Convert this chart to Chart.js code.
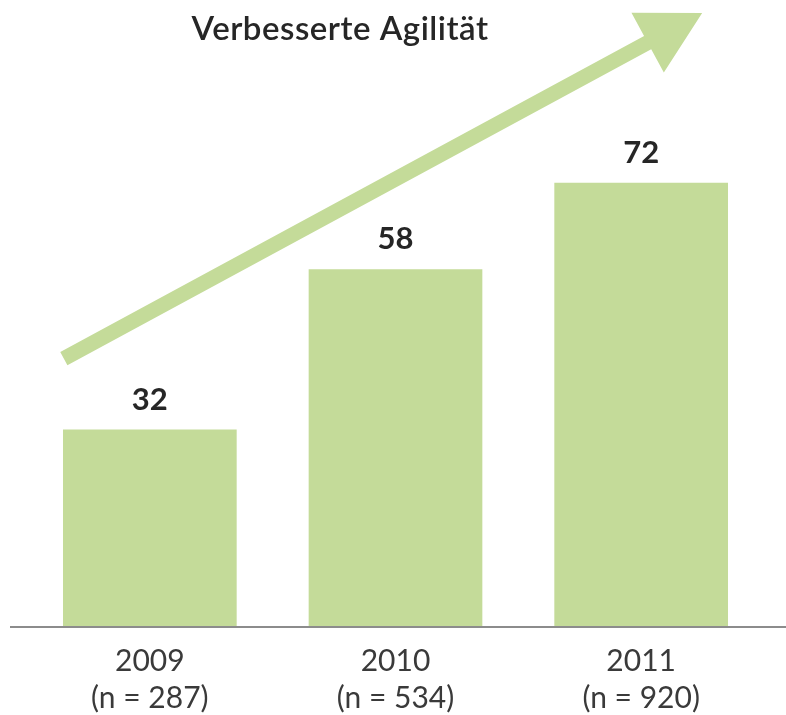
<!DOCTYPE html>
<html>
<head>
<meta charset="utf-8">
<style>
  html, body { margin: 0; padding: 0; background: #fff; }
  #wrap { width: 786px; height: 715px; position: relative; }
</style>
<script src="https://cdn.jsdelivr.net/npm/chart.js@4/dist/chart.umd.min.js"></script>
</head>
<body>
<div id="wrap"><canvas id="agilityChart"></canvas></div>
<script>
const years = ['2009', '2010', '2011'];
const sampleSizes = ['(n = 287)', '(n = 534)', '(n = 920)'];
const agilityValues = [32, 58, 72];
const chartTitle = 'Verbesserte Agilität';

const barGreen = '#c4db99';
const textDark = '#262626';

// Pfeil + Titel + Werte über den Balken
const decoPlugin = {
    id: 'deco',
    afterDatasetsDraw(chart) {
        const { ctx, chartArea, scales } = chart;
        const x = scales.x, y = scales.y;
        ctx.save();

        // Achsenlinie
        ctx.strokeStyle = '#8c8c8c';
        ctx.lineWidth = 2;
        ctx.beginPath();
        ctx.moveTo(chartArea.left - 17, chartArea.bottom);
        ctx.lineTo(chart.width, chartArea.bottom);
        ctx.stroke();

        // Werte
        ctx.fillStyle = textDark;
        ctx.font = 'bold 31px Lato, "Noto Sans", sans-serif';
        ctx.textAlign = 'center';
        ctx.textBaseline = 'alphabetic';
        const meta = chart.getDatasetMeta(0);
        meta.data.forEach((bar, i) => {
            ctx.fillText(agilityValues[i], bar.x, bar.y - 20);
        });

        // Pfeil
        const x0 = x.getPixelForValue(0) - 86, y0 = y.getPixelForValue(43.5);
        const tip = { x: x.getPixelForValue(2) + 61, y: y.getPixelForValue(99.5) };
        const ang = Math.atan2(tip.y - y0, tip.x - x0);
        const headLen = 62, headHalf = 34, shaft = 15;
        const bx = tip.x - headLen * Math.cos(ang), by = tip.y - headLen * Math.sin(ang);
        const px = -Math.sin(ang), py = Math.cos(ang);
        ctx.fillStyle = barGreen;
        ctx.beginPath();
        ctx.moveTo(x0 + px * shaft / 2, y0 + py * shaft / 2);
        ctx.lineTo(bx + px * shaft / 2, by + py * shaft / 2);
        ctx.lineTo(bx + px * headHalf, by + py * headHalf);
        ctx.lineTo(tip.x, tip.y);
        ctx.lineTo(bx - px * headHalf, by - py * headHalf);
        ctx.lineTo(bx - px * shaft / 2, by - py * shaft / 2);
        ctx.lineTo(x0 - px * shaft / 2, y0 - py * shaft / 2);
        ctx.closePath();
        ctx.fill();

        // Titel
        ctx.fillStyle = textDark;
        ctx.font = '600 33px Lato, "Noto Sans", sans-serif';
        ctx.letterSpacing = '0.5px';
        ctx.textAlign = 'center';
        ctx.fillText(chartTitle, 340, 40);

        ctx.restore();
    }
};

new Chart(document.getElementById('agilityChart'), {
    type: 'bar',
    data: {
        labels: years.map((yr, i) => [yr, sampleSizes[i]]),
        datasets: [{
            data: agilityValues,
            backgroundColor: barGreen,
            borderWidth: 0,
            barPercentage: 0.707,
            categoryPercentage: 1
        }]
    },
    options: {
        responsive: true,
        maintainAspectRatio: false,
        animation: false,
        layout: { padding: { left: 27, right: 22, top: 10, bottom: 0 } },
        plugins: { legend: { display: false }, tooltip: { enabled: false } },
        scales: {
            x: {
                grid: { display: false, drawTicks: false },
                border: { display: false },
                afterFit(scale) { scale.height = 88; },
                ticks: {
                    color: '#3a3a3a',
                    padding: 16,
                    font: { family: 'Lato, "Noto Sans", sans-serif', size: 30, lineHeight: 37 / 30 }
                }
            },
            y: {
                display: false,
                min: 0,
                max: 100
            }
        }
    },
    plugins: [decoPlugin]
});
</script>
</body>
</html>
